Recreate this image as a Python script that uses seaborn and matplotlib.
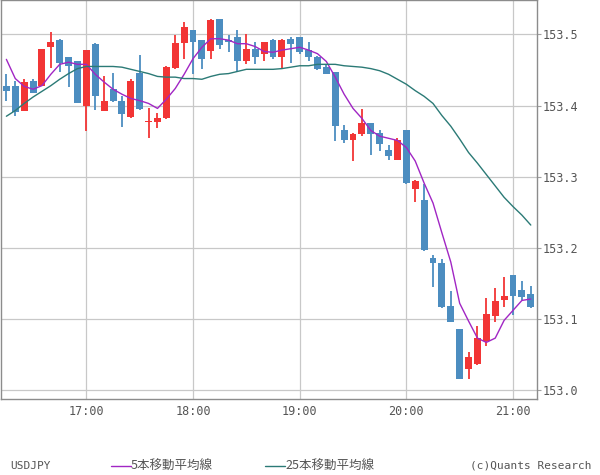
import numpy as np
import pandas as pd
import seaborn as sns
import matplotlib.pyplot as plt
from matplotlib.lines import Line2D

sns.set_theme(style="white")
plt.rcParams["font.family"] = ["DejaVu Sans Mono", "Noto Sans CJK JP"]

# 5-minute USDJPY candles, 16:15 .. 21:10
times = pd.date_range("2024-01-01 16:15", periods=60, freq="5min")

opens = [153.428, 153.428, 153.393, 153.435, 153.428, 153.483, 153.492, 153.468, 153.462, 153.399,
         153.487, 153.393, 153.423, 153.407, 153.384, 153.446, 153.377, 153.377, 153.382, 153.453,
         153.488, 153.506, 153.492, 153.477, 153.522, 153.492, 153.496, 153.463, 153.480, 153.472,
         153.492, 153.468, 153.494, 153.496, 153.478, 153.468, 153.454, 153.447, 153.365, 153.351,
         153.360, 153.375, 153.361, 153.337, 153.324, 153.365, 153.282, 153.267, 153.185, 153.178,
         153.118, 153.086, 153.029, 153.036, 153.069, 153.104, 153.126, 153.162, 153.140, 153.135]
highs = [153.444, 153.435, 153.438, 153.438, 153.480, 153.503, 153.493, 153.468, 153.463, 153.478,
         153.488, 153.442, 153.446, 153.414, 153.437, 153.471, 153.396, 153.389, 153.456, 153.499,
         153.517, 153.506, 153.492, 153.522, 153.522, 153.499, 153.506, 153.500, 153.489, 153.490,
         153.494, 153.493, 153.496, 153.497, 153.490, 153.470, 153.459, 153.447, 153.372, 153.362,
         153.395, 153.375, 153.365, 153.344, 153.354, 153.365, 153.295, 153.290, 153.190, 153.184,
         153.139, 153.086, 153.053, 153.090, 153.129, 153.143, 153.159, 153.162, 153.153, 153.146]
lows = [153.407, 153.385, 153.393, 153.417, 153.427, 153.453, 153.447, 153.426, 153.403, 153.364,
        153.394, 153.392, 153.405, 153.370, 153.383, 153.394, 153.354, 153.368, 153.381, 153.452,
        153.466, 153.445, 153.451, 153.466, 153.479, 153.476, 153.447, 153.458, 153.458, 153.462,
        153.466, 153.452, 153.460, 153.472, 153.463, 153.450, 153.444, 153.350, 153.347, 153.322,
        153.357, 153.331, 153.336, 153.324, 153.323, 153.290, 153.264, 153.196, 153.145, 153.116,
        153.095, 153.015, 153.016, 153.035, 153.062, 153.096, 153.117, 153.105, 153.126, 153.116]
closes = [153.420, 153.391, 153.433, 153.418, 153.479, 153.490, 153.460, 153.455, 153.404, 153.478,
          153.413, 153.407, 153.406, 153.388, 153.435, 153.395, 153.379, 153.382, 153.454, 153.488,
          153.511, 153.489, 153.465, 153.520, 153.485, 153.489, 153.463, 153.479, 153.468, 153.489,
          153.468, 153.492, 153.486, 153.476, 153.468, 153.451, 153.445, 153.371, 153.351, 153.360,
          153.375, 153.360, 153.346, 153.329, 153.351, 153.291, 153.294, 153.197, 153.178, 153.117,
          153.096, 153.016, 153.046, 153.073, 153.107, 153.125, 153.132, 153.132, 153.131, 153.117]

# moving averages as drawn on the chart
ma5 = [153.465, 153.438, 153.427, 153.423, 153.428, 153.444, 153.458, 153.461, 153.458, 153.458,
       153.444, 153.433, 153.423, 153.416, 153.410, 153.407, 153.403, 153.396, 153.409, 153.424,
       153.444, 153.466, 153.482, 153.494, 153.494, 153.492, 153.487, 153.487, 153.483, 153.476,
       153.475, 153.478, 153.480, 153.482, 153.478, 153.473, 153.462, 153.440, 153.416, 153.396,
       153.382, 153.365, 153.357, 153.354, 153.351, 153.341, 153.322, 153.291, 153.263, 153.221,
       153.180, 153.122, 153.097, 153.073, 153.067, 153.073, 153.098, 153.112, 153.126, 153.128]
ma25 = [153.385, 153.393, 153.403, 153.412, 153.420, 153.428, 153.437, 153.445, 153.452, 153.455,
        153.455, 153.455, 153.455, 153.454, 153.451, 153.448, 153.445, 153.441, 153.440, 153.440,
        153.438, 153.438, 153.437, 153.441, 153.444, 153.445, 153.448, 153.451, 153.451, 153.451,
        153.451, 153.452, 153.454, 153.456, 153.456, 153.458, 153.458, 153.458, 153.456, 153.455,
        153.454, 153.452, 153.449, 153.444, 153.437, 153.430, 153.421, 153.413, 153.403, 153.386,
        153.371, 153.353, 153.334, 153.319, 153.303, 153.287, 153.271, 153.258, 153.246, 153.232]

yticks = [153.0, 153.1, 153.2, 153.3, 153.4, 153.5]

df = pd.DataFrame({"time": times, "open": opens, "high": highs, "low": lows,
                   "close": closes, "ma5": ma5, "ma25": ma25})
df["i"] = np.arange(len(df))

RED = "#f23535"
BLUE = "#4c8dc0"
colors = [RED if c >= o else BLUE for o, c in zip(df.open, df.close)]

fig = plt.figure(figsize=(6, 4.75), dpi=100)
ax = fig.add_axes([0.001, 0.16, 0.894, 0.839])

# candles
ax.vlines(df.i, df.low, df.high, colors=colors, linewidth=1.3, zorder=2)
ax.bar(df.i, (df.close - df.open).abs().clip(lower=0.0015),
       bottom=df[["open", "close"]].min(axis=1), width=0.78, color=colors,
       linewidth=0, zorder=3)

sns.lineplot(data=df, x="i", y="ma5", ax=ax, color="#a126c4", linewidth=1.0, zorder=4)
sns.lineplot(data=df, x="i", y="ma25", ax=ax, color="#2b7a76", linewidth=1.0, zorder=4)

ax.set_xlim(-0.65, 59.7)
ax.set_ylim(152.9874, 153.5478)
ax.set_xlabel("")
ax.set_ylabel("")

hour_idx = df.index[df.time.dt.minute == 0]
ax.set_xticks(df.i[hour_idx])
ax.set_xticklabels(df.time[hour_idx].dt.strftime("%H:%M"))
ax.set_yticks(yticks)
ax.set_yticklabels([f"{v:.1f}" for v in yticks])
ax.yaxis.tick_right()

ax.grid(True, color="#c8c8c8", linewidth=0.9)
ax.set_axisbelow(True)
ax.tick_params(axis="x", length=0, pad=4, labelsize=8.5, labelcolor="#555555")
ax.tick_params(axis="y", length=3, width=0.8, color="#a0a0a0", pad=1,
               labelsize=8.5, labelcolor="#555555")
for s in ax.spines.values():
    s.set_color("#8c8c8c")
    s.set_linewidth(1.0)

# footer
fy = 1 - 466 / 475
fig.text(10 / 600, fy, "USDJPY", ha="left", va="center", fontsize=8, color="#555555")
fig.add_artist(Line2D([111 / 600, 131 / 600], [fy, fy], color="#a126c4", linewidth=1.0))
fig.text(131 / 600, fy, "5本移動平均線", ha="left", va="center", fontsize=9, color="#555555",
         family=["Noto Sans CJK JP", "DejaVu Sans"])
fig.add_artist(Line2D([265 / 600, 285 / 600], [fy, fy], color="#2b7a76", linewidth=1.0))
fig.text(285 / 600, fy, "25本移動平均線", ha="left", va="center", fontsize=9, color="#555555",
         family=["Noto Sans CJK JP", "DejaVu Sans"])
fig.text(592 / 600, fy, "(c)Quants Research", ha="right", va="center", fontsize=8, color="#555555")

plt.savefig("out.png", dpi=100)
